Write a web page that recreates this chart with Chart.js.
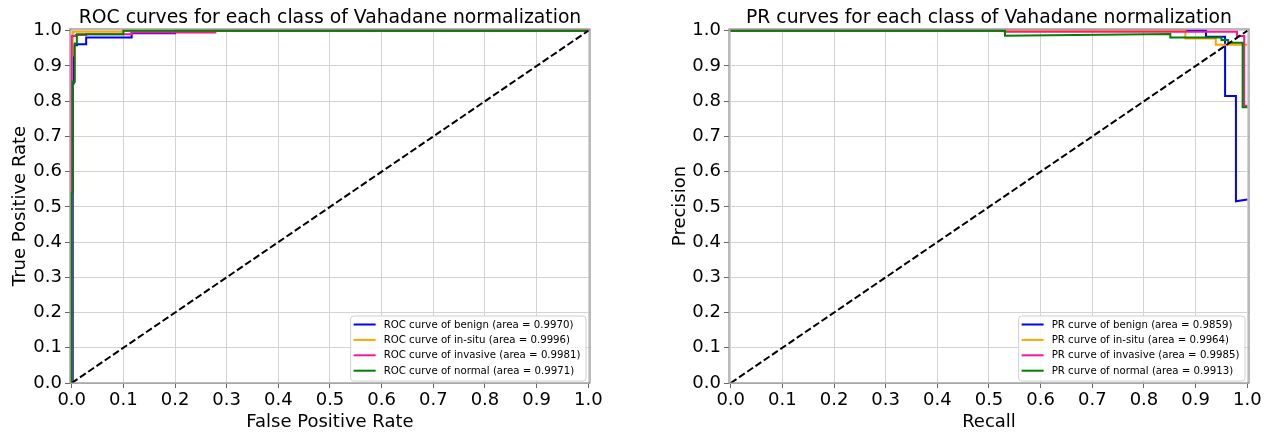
<!DOCTYPE html>
<html>
<head>
<meta charset="utf-8">
<script src="https://cdn.jsdelivr.net/npm/chart.js@4.4.0/dist/chart.umd.min.js"></script>
<style>
  body { margin: 0; background: #fff; }
  #wrap { position: relative; width: 1277px; height: 437px; }
  .box { position: absolute; top: 0; height: 437px; }
</style>
</head>
<body>
<div id="wrap">
  <div class="box" style="left:0;width:640px"><canvas id="roc" width="640" height="437"></canvas></div>
  <div class="box" style="left:640px;width:637px"><canvas id="pr" width="637" height="437"></canvas></div>
</div>
<script>
// tick positions / labels shared by both panels
const tickValues = [0, 0.1, 0.2, 0.3, 0.4, 0.5, 0.6, 0.7, 0.8, 0.9, 1.0];
const tickLabels = ['0.0', '0.1', '0.2', '0.3', '0.4', '0.5', '0.6', '0.7', '0.8', '0.9', '1.0'];

const classNames = ['benign', 'in-situ', 'invasive', 'normal'];
const rocAreas = ['0.9970', '0.9996', '0.9981', '0.9971'];
const prAreas = ['0.9859', '0.9964', '0.9985', '0.9913'];

// ROC curves (false positive rate, true positive rate)
const rocBenignFpr = [0, 0.002, 0.002, 0.004, 0.004, 0.01, 0.01, 0.028, 0.028, 0.116, 0.116, 0.2, 0.2, 1.0];
const rocBenignTpr = [0, 0, 0.85, 0.85, 0.959, 0.959, 0.962, 0.962, 0.981, 0.981, 0.993, 0.993, 1.0, 1.0];
const rocInsituFpr = [0, 0, 0.002, 0.002, 0.1, 0.1, 1.0];
const rocInsituTpr = [0, 0.93, 0.93, 0.997, 0.997, 1.0, 1.0];
const rocInvasiveFpr = [0, 0, 0.008, 0.008, 0.028, 0.028, 0.116, 0.116, 0.278, 0.278, 1.0];
const rocInvasiveTpr = [0, 0.985, 0.985, 0.988, 0.988, 0.99, 0.99, 0.995, 0.995, 1.0, 1.0];
const rocNormalFpr = [0, 0, 0.002, 0.002, 0.006, 0.006, 0.01, 0.01, 0.1, 0.1, 1.0];
const rocNormalTpr = [0, 0.54, 0.54, 0.855, 0.855, 0.964, 0.964, 0.99, 0.99, 1.0, 1.0];

// PR curves (recall, precision)
const prBenignRec = [0, 0.92, 0.92, 0.957, 0.957, 0.978, 0.978, 1.0];
const prBenignPrec = [1.0, 1.0, 0.983, 0.983, 0.815, 0.815, 0.516, 0.521];
const prInsituRec = [0, 0.88, 0.88, 0.939, 0.939, 1.0];
const prInsituPrec = [1.0, 1.0, 0.978, 0.978, 0.96, 0.96];
const prInvasiveRec = [0, 0.53, 0.53, 0.98, 0.98, 0.994, 0.994, 1.0];
const prInvasivePrec = [1.0, 1.0, 0.997, 0.997, 0.985, 0.985, 0.787, 0.787];
const prNormalRec = [0, 0.531, 0.531, 0.851, 0.851, 0.95, 0.95, 0.963, 0.963, 0.991, 0.991, 1.0];
const prNormalPrec = [1.0, 1.0, 0.986, 0.991, 0.981, 0.981, 0.974, 0.974, 0.966, 0.966, 0.783, 0.783];

const chanceX = [0, 1];
const chanceY = [0, 1];

const colors = ['#0000ff', '#ffa500', '#ff1493', '#008000'];

Chart.defaults.font.family = '"DejaVu Sans", sans-serif';
Chart.defaults.color = '#000';

function pts(xs, ys) {
  return xs.map((x, i) => ({ x: x, y: ys[i] }));
}

// title centred over the plot area + frame + lower right legend
const panelDeco = {
  id: 'panelDeco',
  afterDraw(chart, args, opts) {
    const ctx = chart.ctx;
    const a = chart.chartArea;
    ctx.save();

    ctx.strokeStyle = '#8c8c8c';
    ctx.lineWidth = 1.2;
    ctx.strokeRect(a.left, a.top, a.right - a.left, a.bottom - a.top);

    ctx.fillStyle = '#000';
    ctx.font = '18.8px "DejaVu Sans"';
    ctx.textAlign = 'center';
    ctx.textBaseline = 'alphabetic';
    ctx.fillText(opts.title, (a.left + a.right) / 2, 22.5);

    ctx.font = '10.2px "DejaVu Sans"';
    const w = Math.max(...opts.labels.map(t => ctx.measureText(t).width));
    const boxW = 33 + w + 5.5;
    const boxH = 65;
    const x0 = a.right - 4 - boxW;
    const y0 = a.bottom - 2 - boxH;
    ctx.beginPath();
    ctx.roundRect(x0, y0, boxW, boxH, 3);
    ctx.fillStyle = 'rgba(255,255,255,0.85)';
    ctx.fill();
    ctx.strokeStyle = '#d0d0d0';
    ctx.lineWidth = 1;
    ctx.stroke();

    ctx.textAlign = 'left';
    ctx.textBaseline = 'middle';
    opts.labels.forEach((t, i) => {
      const y = y0 + 8.5 + i * 15.4;
      ctx.strokeStyle = colors[i];
      ctx.lineWidth = 2;
      ctx.beginPath();
      ctx.moveTo(x0 + 3, y);
      ctx.lineTo(x0 + 25, y);
      ctx.stroke();
      ctx.fillStyle = '#000';
      ctx.fillText(t, x0 + 33, y + 0.5);
    });
    ctx.restore();
  }
};

function axis(title, lo, hi, fit, isX) {
  return {
    type: 'linear',
    min: lo,
    max: hi,
    afterBuildTicks: s => { s.ticks = tickValues.map(v => ({ value: v })); },
    afterFit: fit,
    ticks: {
      callback: (v, i) => tickLabels[i],
      font: { size: 18 },
      color: '#000',
      padding: isX ? 2 : 3,
      autoSkip: false,
      maxRotation: 0
    },
    grid: { color: '#d3d3d3', lineWidth: 1, tickLength: 5, tickColor: '#666' },
    border: { display: false },
    title: {
      display: true,
      text: title,
      font: { size: 18 },
      color: '#000',
      padding: isX ? { top: 0, bottom: 4 } : { top: 10, bottom: 0 }
    }
  };
}

function makePanel(id, title, xTitle, yTitle, series, labels, padLeft, padRight, yWidth) {
  const datasets = series.map((s, i) => ({
    label: labels[i],
    data: pts(s[0], s[1]),
    borderColor: colors[i],
    borderWidth: 2,
    pointRadius: 0,
    fill: false,
    tension: 0,
    order: 4 - i
  }));
  datasets.push({
    label: 'chance',
    data: pts(chanceX, chanceY),
    borderColor: '#000',
    borderWidth: 2,
    borderDash: [7, 3],
    pointRadius: 0,
    fill: false,
    order: 0
  });

  return new Chart(document.getElementById(id), {
    type: 'line',
    data: { datasets: datasets },
    options: {
      responsive: false,
      animation: false,
      events: [],
      layout: { padding: { top: 29, left: padLeft, right: padRight, bottom: 0 } },
      scales: {
        x: axis(xTitle, -0.0033, 1.0033, s => { s.height = 54; }, true),
        y: axis(yTitle, 0, 1.005, s => { s.width = yWidth; }, false)
      },
      plugins: {
        legend: { display: false },
        tooltip: { enabled: false },
        panelDeco: { title: title, labels: labels }
      }
    },
    plugins: [panelDeco]
  });
}

makePanel('roc', 'ROC curves for each class of Vahadane normalization',
  'False Positive Rate', 'True Positive Rate',
  [[rocBenignFpr, rocBenignTpr], [rocInsituFpr, rocInsituTpr],
   [rocInvasiveFpr, rocInvasiveTpr], [rocNormalFpr, rocNormalTpr]],
  classNames.map((c, i) => 'ROC curve of ' + c + ' (area = ' + rocAreas[i] + ')'),
  0, 50, 70);

makePanel('pr', 'PR curves for each class of Vahadane normalization',
  'Recall', 'Precision',
  [[prBenignRec, prBenignPrec], [prInsituRec, prInsituPrec],
   [prInvasiveRec, prInvasivePrec], [prNormalRec, prNormalPrec]],
  classNames.map((c, i) => 'PR curve of ' + c + ' (area = ' + prAreas[i] + ')'),
  20, 28, 69);
</script>
</body>
</html>
